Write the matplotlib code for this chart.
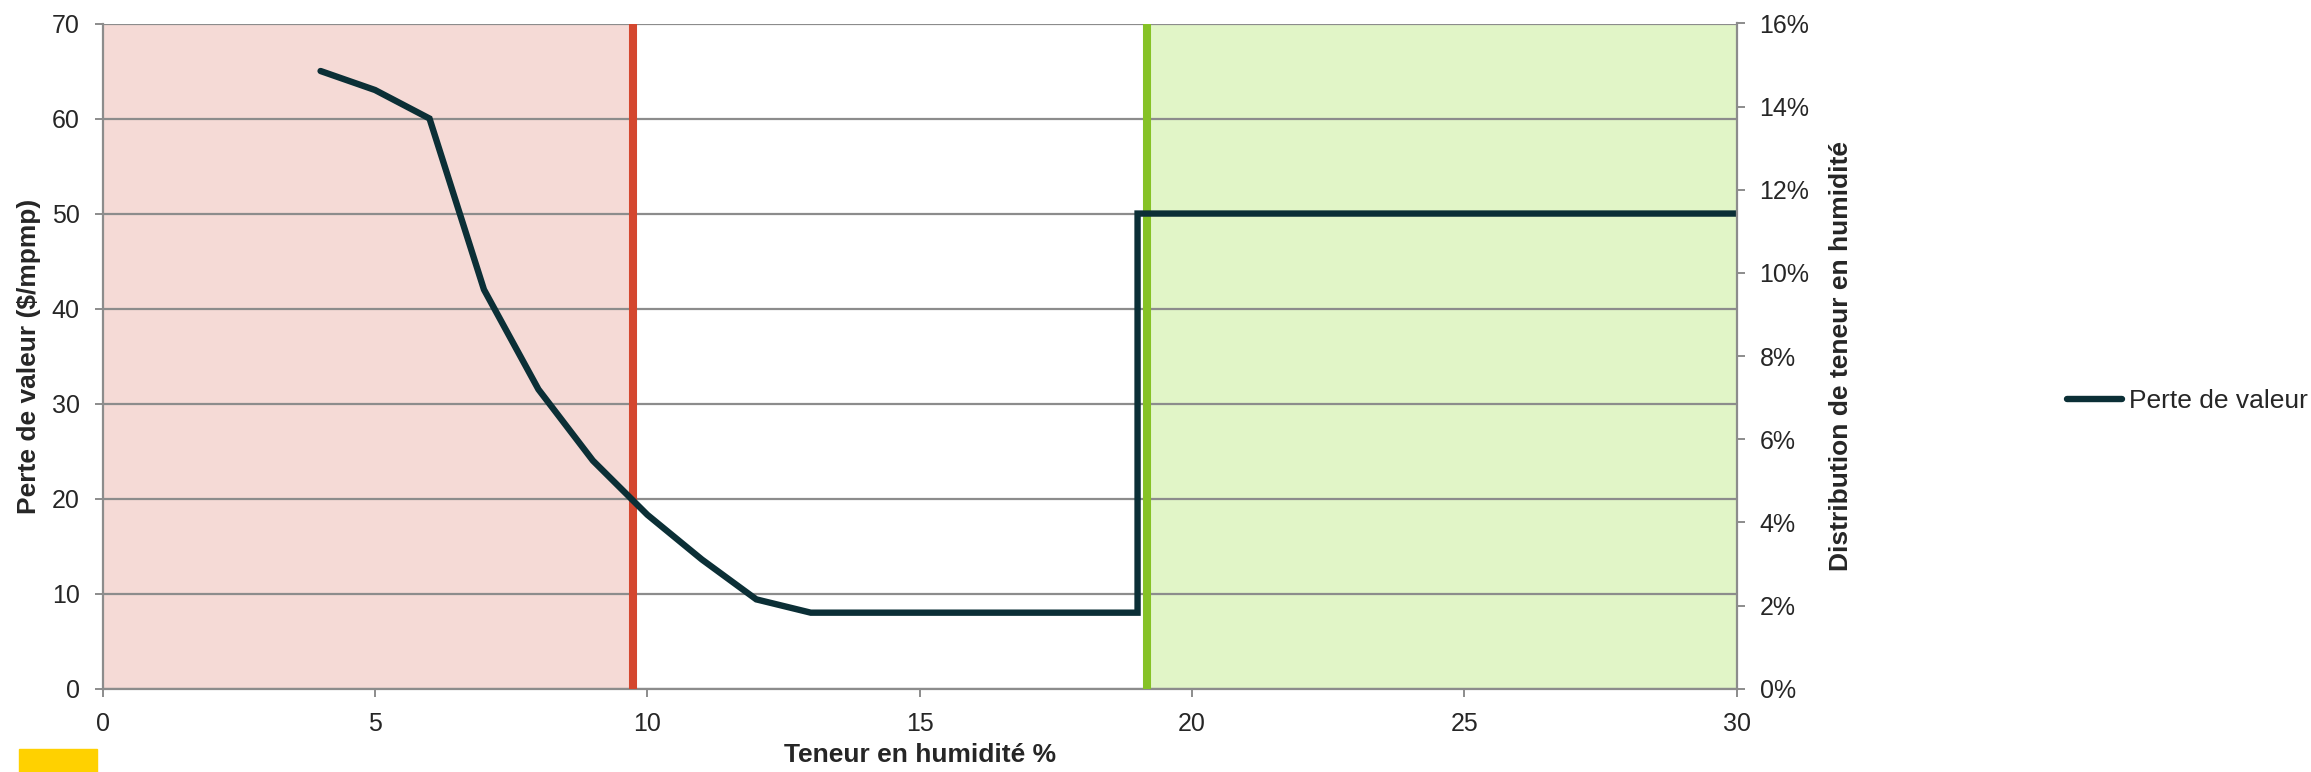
import matplotlib
matplotlib.use("Agg")
import matplotlib.pyplot as plt
from matplotlib.ticker import FuncFormatter
from matplotlib.patches import Rectangle

plt.rcParams['font.family'] = ['Liberation Sans', 'DejaVu Sans']

# ---- data ----
moisture = [4, 5, 6, 7, 8, 9, 10, 11, 12, 13, 19, 19, 30]
value_loss = [65, 63, 60, 42, 31.5, 24, 18.3, 13.6, 9.4, 8, 8, 50, 50]
series_name = "Perte de valeur"
low_limit = 9.74      # red threshold
high_limit = 19.17    # green threshold
x_ticks = [0, 5, 10, 15, 20, 25, 30]
y_ticks = [0, 10, 20, 30, 40, 50, 60, 70]
y2_ticks = [0, 0.02, 0.04, 0.06, 0.08, 0.10, 0.12, 0.14, 0.16]
x_label = "Teneur en humidité %"
y_label = "Perte de valeur ($/mpmp)"
y2_label = "Distribution de teneur en humidité"

W, H, DPI = 2311, 772, 100
fig = plt.figure(figsize=(W / DPI, H / DPI), dpi=DPI)
ax = fig.add_axes([102.7 / W, 1 - 688.7 / H, (1736.7 - 102.7) / W, (688.7 - 23.5) / H])

grey = '#8c8c8c'
txt = '#262626'
line_col = '#0b2f36'

ax.set_xlim(0, 30)
ax.set_ylim(0, 70)
ax.axvspan(0, low_limit, color='#f5dad6', zorder=0.5, lw=0)
ax.axvspan(high_limit, 30, color='#e1f5c7', zorder=0.5, lw=0)

ax.set_xticks(x_ticks)
ax.set_yticks(y_ticks)
ax.yaxis.grid(True, color=grey, lw=1.6)
ax.set_axisbelow('line')

ax.axvline(low_limit, color='#d4472f', lw=5.8, zorder=3, solid_capstyle='butt')
ax.axvline(high_limit, color='#86c226', lw=5.8, zorder=3, solid_capstyle='butt')

ln, = ax.plot(moisture, value_loss, color=line_col, lw=4.6, zorder=5,
              solid_joinstyle='miter', solid_capstyle='round', label=series_name)

for s in ['top', 'right']:
    ax.spines[s].set_visible(False)
for s in ['left', 'bottom']:
    ax.spines[s].set_color(grey)
    ax.spines[s].set_linewidth(1.6)
ax.tick_params(axis='both', direction='out', length=5.5, width=1.4, color=grey,
               labelcolor=txt, labelsize=18)
ax.tick_params(axis='x', pad=11)
ax.tick_params(axis='y', pad=11)

ax.set_xlabel(x_label, fontsize=19, fontweight='bold', color=txt, labelpad=5)
ax.set_ylabel(y_label, fontsize=19, fontweight='bold', color=txt, labelpad=8)

ax2 = ax.twinx()
ax2.set_ylim(0, 0.16)
ax2.set_yticks(y2_ticks)
ax2.yaxis.set_major_formatter(FuncFormatter(lambda v, p: f"{round(v * 100):d}%"))
for s in ['top', 'left', 'bottom']:
    ax2.spines[s].set_visible(False)
ax2.spines['right'].set_color(grey)
ax2.spines['right'].set_linewidth(1.6)
ax2.tick_params(axis='y', direction='out', length=5.5, width=1.4, color=grey,
                labelcolor=txt, labelsize=18, pad=11)
ax2.set_ylabel(y2_label, fontsize=19, fontweight='bold', color=txt, labelpad=14,
               family=['Liberation Sans Narrow', 'Liberation Sans', 'DejaVu Sans'])

fig.legend(handles=[ln], labels=[series_name], loc='center left',
           bbox_to_anchor=(2067 / W, 1 - 401 / H), frameon=False,
           borderpad=0, borderaxespad=0, handlelength=2.1, handletextpad=0.25,
           fontsize=19, labelcolor=txt)

fig.patches.append(Rectangle((19 / W, 0), (97 - 19) / W, (772 - 749) / H,
                             transform=fig.transFigure, color='#ffd100', zorder=0))

fig.savefig("out.png", dpi=DPI)
